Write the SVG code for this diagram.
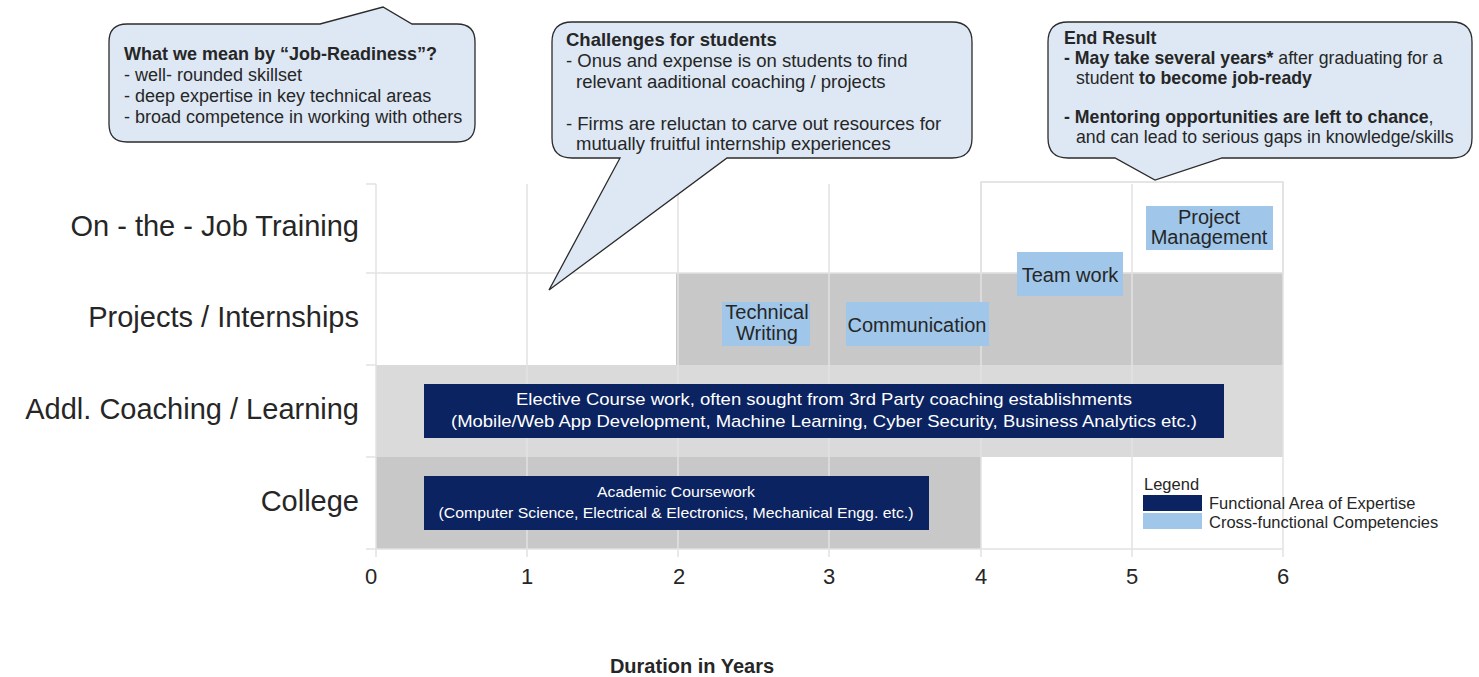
<svg xmlns="http://www.w3.org/2000/svg" width="1479" height="677" viewBox="0 0 1479 677">
<style>
text{font-family:"Liberation Sans",Arial,sans-serif;fill:#262626}
.ylab{font-size:29px;text-anchor:end}
.xt{font-size:22px;text-anchor:middle}
.grid{stroke:#e2e2e2;stroke-width:1.5;fill:none}
.call{fill:#dde8f4;stroke:#2b2b2b;stroke-width:1.3}
.ct{font-size:18px}
.ct2{font-size:18.5px}
.ct3{font-size:17.7px}
.b{font-weight:bold}
.navy{fill:#0b2361}
.lb{fill:#a0c6ea}
.nt{fill:#ffffff;text-anchor:middle}
.lt{font-size:20px;text-anchor:middle}
.leg{font-size:16.5px}
</style>
<rect width="1479" height="677" fill="#ffffff"/>
<g id="bands">
<rect x="981" y="182" width="302" height="91" fill="#ffffff" stroke="#dddddd" stroke-width="1.5"/>
<rect x="676" y="273" width="607" height="92" fill="#c8c8c8"/>
<rect x="376" y="365" width="907" height="92" fill="#dadada"/>
<rect x="376" y="457" width="605" height="92" fill="#c8c8c8"/>
</g>
<g id="grid">
<line class="grid" x1="527" y1="184" x2="527" y2="549"/>
<line class="grid" x1="678" y1="184" x2="678" y2="549"/>
<line class="grid" x1="829" y1="184" x2="829" y2="549"/>
<line class="grid" x1="981" y1="184" x2="981" y2="549"/>
<line class="grid" x1="1132" y1="184" x2="1132" y2="549"/>
<line class="grid" x1="1283" y1="184" x2="1283" y2="549"/>
<line class="grid" x1="376" y1="184" x2="376" y2="549"/>
<line class="grid" x1="366" y1="184" x2="376" y2="184"/>
<line class="grid" x1="366" y1="273" x2="376" y2="273"/>
<line class="grid" x1="366" y1="365" x2="376" y2="365"/>
<line class="grid" x1="366" y1="457" x2="376" y2="457"/>
<line class="grid" x1="376" y1="273" x2="1283" y2="273"/>
<line class="grid" x1="366" y1="549" x2="1283" y2="549"/>
<line class="grid" x1="376" y1="549" x2="376" y2="557"/>
<line class="grid" x1="527" y1="549" x2="527" y2="557"/>
<line class="grid" x1="678" y1="549" x2="678" y2="557"/>
<line class="grid" x1="829" y1="549" x2="829" y2="557"/>
<line class="grid" x1="981" y1="549" x2="981" y2="557"/>
<line class="grid" x1="1132" y1="549" x2="1132" y2="557"/>
<line class="grid" x1="1283" y1="549" x2="1283" y2="557"/>
</g>
<g id="ylabels">
<text class="ylab" x="359" y="236">On - the - Job Training</text>
<text class="ylab" x="359" y="327">Projects / Internships</text>
<text class="ylab" x="359" y="419">Addl. Coaching / Learning</text>
<text class="ylab" x="359" y="511">College</text>
</g>
<g id="xlabels">
<text class="xt" x="371" y="584">0</text>
<text class="xt" x="527" y="584">1</text>
<text class="xt" x="679" y="584">2</text>
<text class="xt" x="829" y="584">3</text>
<text class="xt" x="981" y="584">4</text>
<text class="xt" x="1132" y="584">5</text>
<text class="xt" x="1283" y="584">6</text>
<text x="692" y="673" font-size="20" font-weight="bold" text-anchor="middle">Duration in Years</text>
</g>
<g id="elective">
<rect class="navy" x="424" y="384" width="800" height="54"/>
<text class="nt" x="824" y="405" font-size="17" textLength="616" lengthAdjust="spacingAndGlyphs">Elective Course work, often sought from 3rd Party coaching establishments</text>
<text class="nt" x="824" y="427" font-size="17" textLength="746" lengthAdjust="spacingAndGlyphs">(Mobile/Web App Development, Machine Learning, Cyber Security, Business Analytics etc.)</text>
</g>
<g id="academic">
<rect class="navy" x="424" y="476" width="505" height="54"/>
<text class="nt" x="676" y="497" font-size="15" textLength="158" lengthAdjust="spacingAndGlyphs">Academic Coursework</text>
<text class="nt" x="676" y="518" font-size="15" textLength="475" lengthAdjust="spacingAndGlyphs">(Computer Science, Electrical &amp; Electronics, Mechanical Engg. etc.)</text>
</g>
<g id="techwriting">
<rect class="lb" x="722" y="302" width="88" height="44"/>
<text class="lt" x="767" y="319">Technical</text>
<text class="lt" x="767" y="340">Writing</text>
</g>
<g id="communication">
<rect class="lb" x="846" y="302" width="143" height="44"/>
<text class="lt" x="917" y="332">Communication</text>
</g>
<g id="teamwork">
<rect class="lb" x="1017" y="252" width="106" height="44"/>
<text class="lt" x="1070" y="282">Team work</text>
</g>
<g id="projmgmt">
<rect class="lb" x="1146" y="206" width="127" height="44"/>
<text class="lt" x="1209" y="224">Project</text>
<text class="lt" x="1209" y="244">Management</text>
</g>
<g id="legend">
<text class="leg" x="1144" y="490">Legend</text>
<rect class="navy" x="1143" y="495" width="59" height="16"/>
<rect class="lb" x="1143" y="513" width="59" height="16"/>
<text class="leg" x="1209" y="509">Functional Area of Expertise</text>
<text class="leg" x="1209" y="528">Cross-functional Competencies</text>
</g>
<g id="callout1">
<path class="call" d="M127,24 L320,24 L383,7 L412,24 L457,24 Q475,24 475,42 L475,124 Q475,142 457,142 L127,142 Q109,142 109,124 L109,42 Q109,24 127,24 Z"/>
<text class="ct b" x="124" y="60">What we mean by “Job-Readiness”?</text>
<text class="ct" x="124" y="81">- well- rounded skillset</text>
<text class="ct" x="124" y="102">- deep expertise in key technical areas</text>
<text class="ct" x="124" y="123">- broad competence in working with others</text>
</g>
<g id="callout2">
<path class="call" d="M572,22 L952,22 Q972,22 972,42 L972,138 Q972,158 952,158 L727,158 L549,290 L620,158 L572,158 Q552,158 552,138 L552,42 Q552,22 572,22 Z"/>
<text class="ct2 b" x="566" y="46">Challenges for students</text>
<text class="ct2" x="566" y="67">- Onus and expense is on students to find</text>
<text class="ct2" x="576" y="88">relevant aaditional coaching / projects</text>
<text class="ct2" x="566" y="130">- Firms are reluctan to carve out resources for</text>
<text class="ct2" x="576" y="150">mutually fruitful internship experiences</text>
</g>
<g id="callout3">
<path class="call" d="M1068,22 L1452,22 Q1472,22 1472,42 L1472,138 Q1472,158 1452,158 L1222,158 L1155,180 L1115,158 L1068,158 Q1048,158 1048,138 L1048,42 Q1048,22 1068,22 Z"/>
<text class="ct3 b" x="1064" y="44">End Result</text>
<text class="ct3" x="1064" y="64"><tspan class="b">- May take several years*</tspan> after graduating for a</text>
<text class="ct3" x="1076" y="84">student <tspan class="b">to become job-ready</tspan></text>
<text class="ct3" x="1064" y="123"><tspan class="b">- Mentoring opportunities are left to chance</tspan>,</text>
<text class="ct3" x="1076" y="143">and can lead to serious gaps in knowledge/skills</text>
</g>
</svg>
